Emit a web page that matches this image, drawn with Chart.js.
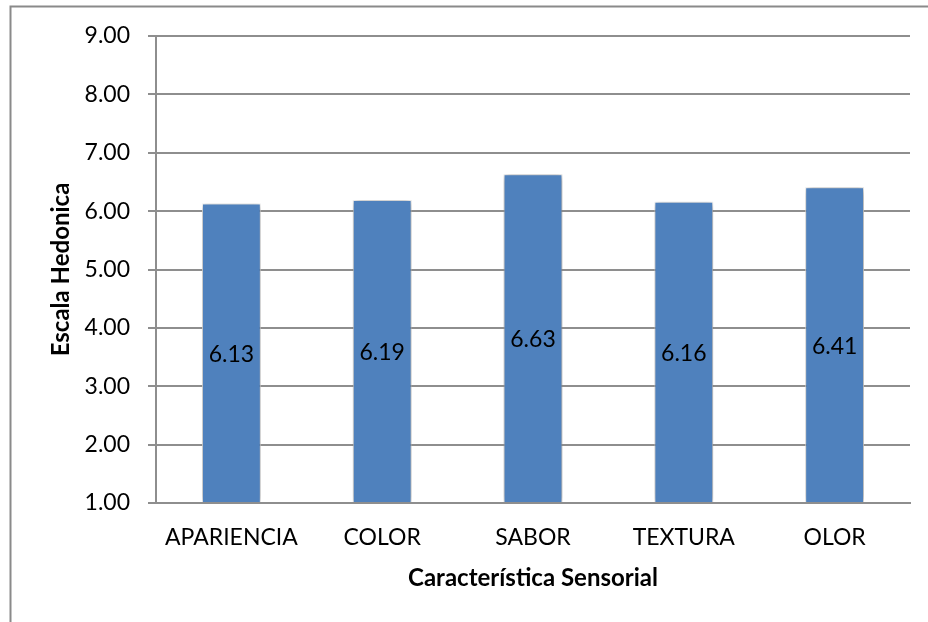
<!DOCTYPE html>
<html>
<head>
<meta charset="utf-8">
<script src="https://cdn.jsdelivr.net/npm/chart.js@4/dist/chart.umd.min.js"></script>
<style>
  html, body { margin: 0; padding: 0; background: #ffffff; }
  #wrap { width: 928px; height: 622px; position: relative; }
</style>
</head>
<body>
<div id="wrap"><canvas id="c" width="928" height="622"></canvas></div>
<script>
// Sensory evaluation scores per attribute (hedonic scale)
const categories = ['APARIENCIA', 'COLOR', 'SABOR', 'TEXTURA', 'OLOR'];
const scores = [6.13, 6.19, 6.63, 6.16, 6.41];
const yTicks = [1, 2, 3, 4, 5, 6, 7, 8, 9];

const FONT = 'Lato, "Open Sans", sans-serif';
const GRID = '#8e8e8e';

// Thin frame along the top and left edges of the figure
const framePlugin = {
  id: 'frame',
  beforeDraw(chart) {
    const ctx = chart.ctx;
    ctx.save();
    ctx.strokeStyle = '#8a8a8a';
    ctx.lineWidth = 2;
    ctx.beginPath();
    ctx.moveTo(10.5, chart.height);
    ctx.lineTo(10.5, 6.5);
    ctx.lineTo(chart.width, 6.5);
    ctx.stroke();
    ctx.restore();
  }
};

// Soft drop shadow around the bars
const shadowPlugin = {
  id: 'barShadow',
  beforeDatasetsDraw(chart) {
    const ctx = chart.ctx;
    ctx.save();
    ctx.shadowColor = 'rgba(0,0,0,0.5)';
    ctx.shadowBlur = 7;
    ctx.shadowOffsetX = 0.5;
    ctx.shadowOffsetY = 1;
  },
  afterDatasetsDraw(chart) {
    chart.ctx.restore();
  }
};

// Value labels centred inside each bar
const valueLabels = {
  id: 'valueLabels',
  afterDatasetsDraw(chart) {
    const ctx = chart.ctx;
    const meta = chart.getDatasetMeta(0);
    const yScale = chart.scales.y;
    const basePx = yScale.getPixelForValue(yTicks[0]);
    ctx.save();
    ctx.font = '23px ' + FONT;
    ctx.fillStyle = '#000000';
    ctx.textAlign = 'center';
    ctx.textBaseline = 'middle';
    meta.data.forEach((bar, i) => {
      const yMid = (yScale.getPixelForValue(scores[i]) + basePx) / 2;
      ctx.fillText(scores[i].toFixed(2), bar.x, yMid + 1);
    });
    ctx.restore();
  }
};

new Chart(document.getElementById('c'), {
  type: 'bar',
  data: {
    labels: categories,
    datasets: [{
      data: scores,
      base: yTicks[0],
      backgroundColor: '#4f81bd',
      borderColor: 'rgba(255,255,255,0.85)',
      borderWidth: 1,
      borderSkipped: 'start',
      categoryPercentage: 1,
      barPercentage: 0.39
    }]
  },
  options: {
    responsive: false,
    animation: false,
    events: [],
    layout: { padding: { left: 11, top: 36, right: 18, bottom: 0 } },
    plugins: {
      legend: { display: false },
      tooltip: { enabled: false }
    },
    scales: {
      x: {
        grid: { display: false, drawTicks: false },
        border: { display: true, color: GRID, width: 2 },
        ticks: { color: '#000', font: { family: FONT, size: 23 }, padding: 21, maxRotation: 0 },
        title: {
          display: true,
          text: 'Característica Sensorial',
          color: '#000',
          font: { family: FONT, size: 24, weight: 'bold' },
          padding: { top: 0, bottom: 29 }
        },
        afterFit(scale) { scale.height = 119; }
      },
      y: {
        min: yTicks[0],
        max: yTicks[yTicks.length - 1],
        afterBuildTicks(scale) { scale.ticks = yTicks.map(v => ({ value: v })); },
        grid: { color: GRID, lineWidth: 2, tickLength: 8, drawTicks: true },
        border: { display: true, color: GRID, width: 2 },
        ticks: {
          color: '#000',
          font: { family: FONT, size: 23 },
          padding: 18,
          callback: v => Number(v).toFixed(2)
        },
        title: {
          display: true,
          text: 'Escala Hedonica',
          color: '#000',
          font: { family: FONT, size: 24, weight: 'bold' },
          padding: { top: 36, bottom: 0 }
        },
        afterFit(scale) { scale.width = 145; }
      }
    }
  },
  plugins: [framePlugin, shadowPlugin, valueLabels]
});
</script>
</body>
</html>
